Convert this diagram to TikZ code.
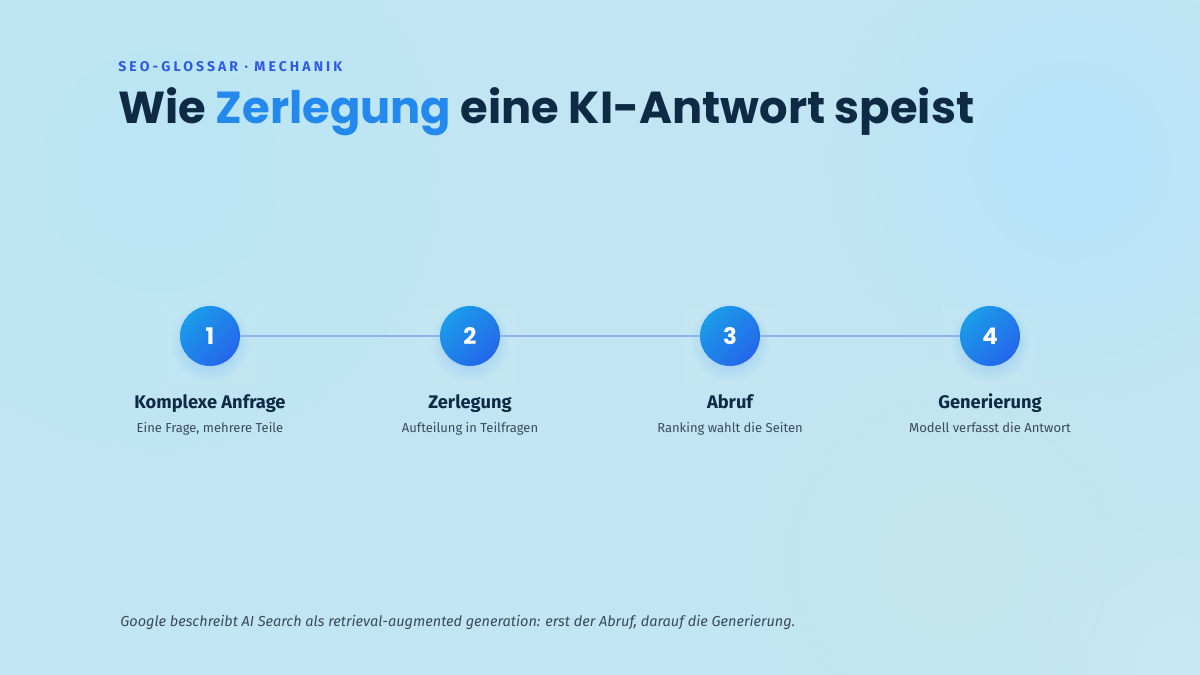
\documentclass[tikz,border=0pt]{standalone}
\usepackage{fontspec}
\setmainfont{Fira Sans}
\newfontfamily\titlefont{Poppins}
\newfontfamily\kickerfont[LetterSpace=22]{Fira Sans}
\usetikzlibrary{fadings}

\definecolor{navy}{HTML}{0F2A45}
\definecolor{accent}{HTML}{2389EC}
\definecolor{kicker}{HTML}{2E5CDF}
\definecolor{greytext}{HTML}{3A4A5C}
\definecolor{bgbase}{HTML}{C1E5F2}
\definecolor{stepA}{HTML}{1B9CE9}
\definecolor{stepB}{HTML}{2466EA}
\definecolor{steprule}{HTML}{8DB4EC}

\tikzfading[name=fuzzy, inner color=transparent!0, outer color=transparent!100]

\tikzset{
	stepdot/.style={circle, minimum size=60*0.02cm, inner sep=0pt, left color=stepA, right color=stepB, shading angle=45, text=white, font=\titlefont\bfseries\fontsize{13}{15}\selectfont},
	steptitle/.style={text=navy, font=\bfseries\fontsize{10.4}{12}\selectfont},
	stepdesc/.style={text=greytext, font=\fontsize{7.4}{9}\selectfont},
	steplink/.style={steprule, line width=1.3pt}
}

\begin{document}
\begin{tikzpicture}[x=0.02cm, y=-0.02cm]
	\useasboundingbox (0,0) rectangle (1200,675);
	\fill[bgbase] (0,0) rectangle (1200,675);

	% soft colour blobs
	\fill[cyan!30!white, path fading=fuzzy, opacity=0.5] (160,170) circle[radius=280];
	\fill[blue!35!cyan!30!white, path fading=fuzzy, opacity=0.8] (1070,160) circle[radius=240];
	\fill[teal!20!white, path fading=fuzzy, opacity=0.4] (950,560) circle[radius=200];
	\fill[white, path fading=fuzzy, opacity=0.15] (1180,660) circle[radius=180];

	\node[anchor=base west, inner sep=0pt, text=kicker, font=\kickerfont\bfseries\fontsize{8}{9}\selectfont] (kick) at (118,72) {SEO-GLOSSAR · MECHANIK};
	\node[anchor=base west, inner sep=0pt, text=navy, font=\titlefont\bfseries\fontsize{25.5}{30}\selectfont] (title) at (118,124) {Wie \textcolor{accent}{Zerlegung} eine KI-Antwort speist};

	\foreach \i/\x/\head/\desc in {1/210/Komplexe Anfrage/{Eine Frage, mehrere Teile}, 2/470/Zerlegung/Aufteilung in Teilfragen, 3/730/Abruf/Ranking wahlt die Seiten, 4/990/Generierung/Modell verfasst die Antwort} {
		\fill[white, opacity=0.04] (\x-48,306) rectangle (\x+48,386);
		\fill[blue!60!cyan, path fading=fuzzy, opacity=0.3] (\x,342) circle[radius=40];
		\node[stepdot] (s\i) at (\x,336) {\i};
		\node[steptitle, anchor=base] (t\i) at (\x,408) {\head};
		\node[stepdesc, anchor=base] (d\i) at (\x,432) {\desc};
	}

	\foreach \a/\b in {1/2, 2/3, 3/4}
		\draw[steplink] (s\a) -- (s\b);

	\node[anchor=base west, inner sep=0pt, text=greytext, font=\itshape\fontsize{8.25}{10}\selectfont] (note) at (120,626) {Google beschreibt AI Search als retrieval-augmented generation: erst der Abruf, darauf die Generierung.};
\end{tikzpicture}
\end{document}
